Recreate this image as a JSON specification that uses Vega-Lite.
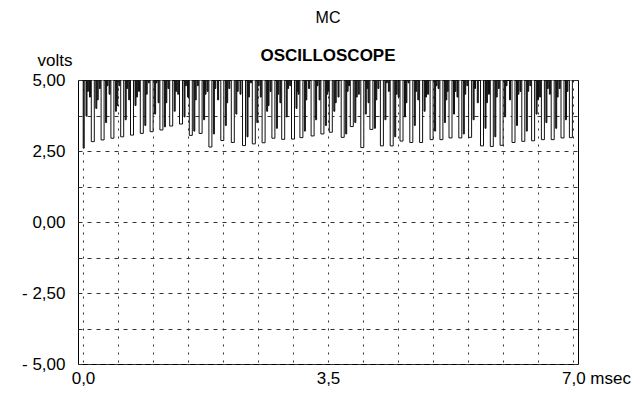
{
  "$schema": "https://vega.github.io/schema/vega-lite/v6.json",
  "width": 500,
  "height": 284,
  "autosize": {"type": "none"},
  "padding": {"left": 78, "top": 80, "right": 62, "bottom": 33},
  "background": "white",
  "config": {"font": "Liberation Sans", "view": {"stroke": "#000", "strokeWidth": 1}},
  "title": {
    "text": "MC",
    "subtitle": "OSCILLOSCOPE",
    "fontSize": 16,
    "fontWeight": "normal",
    "color": "#000",
    "subtitleFontSize": 17,
    "subtitleFontWeight": "bold",
    "subtitleColor": "#000",
    "subtitleFont": "Liberation Sans",
    "font": "Liberation Sans",
    "offset": -13,
    "subtitlePadding": 22,
    "anchor": "middle"
  },
  "datasets": {
    "long": [
      {"t": 0.14, "v": 2.83}, {"t": 0.28, "v": 2.89}, {"t": 0.42, "v": 2.95}, {"t": 0.56, "v": 3.0},
      {"t": 0.70, "v": 3.06}, {"t": 0.84, "v": 3.12}, {"t": 0.98, "v": 3.18}, {"t": 1.12, "v": 3.24},
      {"t": 1.26, "v": 3.38}, {"t": 1.40, "v": 3.45}, {"t": 1.54, "v": 3.05}, {"t": 1.68, "v": 3.12},
      {"t": 1.82, "v": 2.64}, {"t": 1.99, "v": 2.87}, {"t": 2.14, "v": 2.80}, {"t": 2.30, "v": 2.69},
      {"t": 2.44, "v": 2.75}, {"t": 2.58, "v": 2.79}, {"t": 2.72, "v": 2.95}, {"t": 2.86, "v": 2.91},
      {"t": 3.00, "v": 2.92}, {"t": 3.12, "v": 2.97}, {"t": 3.28, "v": 3.03}, {"t": 3.42, "v": 3.10},
      {"t": 3.54, "v": 3.16}, {"t": 3.71, "v": 2.98}, {"t": 3.84, "v": 3.36}, {"t": 3.99, "v": 2.62},
      {"t": 4.12, "v": 3.26}, {"t": 4.27, "v": 2.68}, {"t": 4.41, "v": 2.68}, {"t": 4.55, "v": 2.85},
      {"t": 4.69, "v": 2.80}, {"t": 4.83, "v": 2.80}, {"t": 4.98, "v": 2.90}, {"t": 5.12, "v": 2.90},
      {"t": 5.25, "v": 2.96}, {"t": 5.39, "v": 2.96}, {"t": 5.53, "v": 2.98}, {"t": 5.70, "v": 2.68},
      {"t": 5.84, "v": 2.66}, {"t": 5.98, "v": 2.70}, {"t": 6.15, "v": 2.80}, {"t": 6.29, "v": 2.84},
      {"t": 6.43, "v": 2.86}, {"t": 6.57, "v": 2.90}, {"t": 6.71, "v": 2.90}, {"t": 6.85, "v": 2.96},
      {"t": 6.97, "v": 2.97}
    ],
    "short": [
      {"t": 0.01, "v": 2.6},
      {"t": 0.05, "v": 3.73}, {"t": 0.19, "v": 4.0}, {"t": 0.33, "v": 3.5}, {"t": 0.47, "v": 3.9},
      {"t": 0.61, "v": 3.6}, {"t": 0.75, "v": 4.1}, {"t": 0.89, "v": 3.4}, {"t": 1.03, "v": 3.8},
      {"t": 1.17, "v": 3.35}, {"t": 1.31, "v": 3.9}, {"t": 1.45, "v": 3.7}, {"t": 1.59, "v": 3.2},
      {"t": 1.73, "v": 3.6}, {"t": 1.87, "v": 3.1}, {"t": 2.04, "v": 3.4}, {"t": 2.19, "v": 3.8},
      {"t": 2.35, "v": 3.0}, {"t": 2.49, "v": 3.5}, {"t": 2.63, "v": 3.9}, {"t": 2.77, "v": 3.3},
      {"t": 2.91, "v": 3.7}, {"t": 3.05, "v": 4.0}, {"t": 3.17, "v": 3.2}, {"t": 3.33, "v": 3.6},
      {"t": 3.47, "v": 3.4}, {"t": 3.59, "v": 3.9}, {"t": 3.76, "v": 3.1}, {"t": 3.89, "v": 3.5},
      {"t": 4.04, "v": 3.8}, {"t": 4.17, "v": 3.3}, {"t": 4.32, "v": 3.6}, {"t": 4.46, "v": 3.0},
      {"t": 4.60, "v": 3.7}, {"t": 4.74, "v": 3.4}, {"t": 4.88, "v": 3.9}, {"t": 5.03, "v": 3.2},
      {"t": 5.17, "v": 3.5}, {"t": 5.30, "v": 3.8}, {"t": 5.44, "v": 3.1}, {"t": 5.58, "v": 3.6},
      {"t": 5.75, "v": 3.3}, {"t": 5.89, "v": 3.0}, {"t": 6.03, "v": 3.7}, {"t": 6.20, "v": 3.4},
      {"t": 6.34, "v": 3.2}, {"t": 6.48, "v": 3.8}, {"t": 6.62, "v": 3.5}, {"t": 6.76, "v": 3.3},
      {"t": 6.90, "v": 3.6},
      {"t": 0.10, "v": 4.4}, {"t": 0.24, "v": 4.7}, {"t": 0.38, "v": 4.5}, {"t": 0.52, "v": 4.8},
      {"t": 0.66, "v": 4.3}, {"t": 0.80, "v": 4.6}, {"t": 0.94, "v": 4.9}, {"t": 1.08, "v": 4.2},
      {"t": 1.22, "v": 4.7}, {"t": 1.36, "v": 4.5}, {"t": 1.50, "v": 4.4}, {"t": 1.64, "v": 4.8},
      {"t": 1.78, "v": 4.6}, {"t": 1.93, "v": 4.3}, {"t": 2.09, "v": 4.7}, {"t": 2.25, "v": 4.5},
      {"t": 2.40, "v": 4.9}, {"t": 2.54, "v": 4.4}, {"t": 2.68, "v": 4.6}, {"t": 2.82, "v": 4.2},
      {"t": 2.96, "v": 4.8}, {"t": 3.08, "v": 4.5}, {"t": 3.23, "v": 4.7}, {"t": 3.38, "v": 4.3},
      {"t": 3.50, "v": 4.6}, {"t": 3.65, "v": 4.4}, {"t": 3.80, "v": 4.8}, {"t": 3.94, "v": 4.5},
      {"t": 4.08, "v": 4.2}, {"t": 4.22, "v": 4.7}, {"t": 4.37, "v": 4.6}, {"t": 4.51, "v": 4.4},
      {"t": 4.65, "v": 4.9}, {"t": 4.79, "v": 4.3}, {"t": 4.93, "v": 4.5}, {"t": 5.08, "v": 4.7},
      {"t": 5.21, "v": 4.6}, {"t": 5.35, "v": 4.4}, {"t": 5.49, "v": 4.8}, {"t": 5.64, "v": 4.2},
      {"t": 5.80, "v": 4.5}, {"t": 5.94, "v": 4.7}, {"t": 6.10, "v": 4.3}, {"t": 6.25, "v": 4.6},
      {"t": 6.39, "v": 4.8}, {"t": 6.53, "v": 4.4}, {"t": 6.67, "v": 4.5}, {"t": 6.81, "v": 4.7},
      {"t": 0.07, "v": 4.6}, {"t": 0.21, "v": 4.3}, {"t": 0.35, "v": 4.8}, {"t": 0.49, "v": 4.1},
      {"t": 0.63, "v": 4.7}, {"t": 0.77, "v": 4.4}, {"t": 0.91, "v": 4.5}, {"t": 1.05, "v": 4.9},
      {"t": 1.19, "v": 4.2}, {"t": 1.33, "v": 4.6}, {"t": 1.47, "v": 4.8}, {"t": 1.61, "v": 4.3},
      {"t": 1.75, "v": 4.5}, {"t": 1.89, "v": 4.7}, {"t": 2.06, "v": 4.2}, {"t": 2.21, "v": 4.6},
      {"t": 2.37, "v": 4.4}, {"t": 2.51, "v": 4.8}, {"t": 2.65, "v": 4.1}, {"t": 2.79, "v": 4.5},
      {"t": 2.93, "v": 4.7}, {"t": 3.07, "v": 4.6}, {"t": 3.19, "v": 4.3}, {"t": 3.35, "v": 4.8},
      {"t": 3.49, "v": 4.5}, {"t": 3.61, "v": 4.2}, {"t": 3.78, "v": 4.6}, {"t": 3.91, "v": 4.4},
      {"t": 4.06, "v": 4.7}, {"t": 4.19, "v": 4.3}, {"t": 4.34, "v": 4.9}, {"t": 4.48, "v": 4.5},
      {"t": 4.62, "v": 4.2}, {"t": 4.76, "v": 4.6}, {"t": 4.90, "v": 4.4}, {"t": 5.05, "v": 4.8},
      {"t": 5.19, "v": 4.3}, {"t": 5.32, "v": 4.6}, {"t": 5.46, "v": 4.5}, {"t": 5.60, "v": 4.7},
      {"t": 5.77, "v": 4.2}, {"t": 5.91, "v": 4.4}, {"t": 6.05, "v": 4.8}, {"t": 6.22, "v": 4.5},
      {"t": 6.36, "v": 4.6}, {"t": 6.50, "v": 4.3}, {"t": 6.64, "v": 4.7}, {"t": 6.78, "v": 4.4},
      {"t": 6.92, "v": 4.6}
    ]
  },
  "layer": [
    {
      "data": {"name": "long"},
      "mark": {"type": "bar", "width": 3, "fill": "#ffffff", "stroke": "#111111", "strokeWidth": 1, "clip": true},
      "encoding": {
        "x": {
          "field": "t",
          "type": "quantitative",
          "scale": {"domain": [0, 7], "nice": false, "zero": false},
          "axis": {
            "values": [0, 0.5, 1, 1.5, 2, 2.5, 3, 3.5, 4, 4.5, 5, 5.5, 6, 6.5, 7],
            "tickCount": 30,
            "grid": true,
            "gridColor": "#333333",
            "gridDash": [2, 6],
            "gridWidth": 1,
            "ticks": false,
            "domain": false,
            "title": null,
            "labelExpr": "datum.value == 0 ? '0,0' : datum.value == 3.5 ? '3,5' : datum.value == 7 ? '7,0 msec' : ''",
            "labelFontSize": 17,
            "labelColor": "#000000",
            "labelPadding": 6,
            "labelFlush": false,
            "labelOverlap": false,
            "labelOffset": {"condition": {"test": "datum.value == 7", "value": 23}, "value": 0}
          }
        },
        "y": {
          "field": "v",
          "type": "quantitative",
          "scale": {"domain": [-5, 5], "nice": false, "zero": false},
          "axis": {
            "values": [-5, -3.75, -2.5, -1.25, 0, 1.25, 2.5, 3.75, 5],
            "tickCount": 20,
            "grid": true,
            "gridColor": "#333333",
            "gridDash": [4, 5],
            "gridWidth": 1,
            "ticks": false,
            "domain": false,
            "labelExpr": "datum.value == 5 ? '5,00' : datum.value == 2.5 ? '2,50' : datum.value == 0 ? '0,00' : datum.value == -2.5 ? '- 2,50' : datum.value == -5 ? '- 5,00' : ''",
            "labelFontSize": 17,
            "labelColor": "#000000",
            "labelPadding": 13,
            "labelFlush": false,
            "labelOverlap": false,
            "title": "volts",
            "titleAngle": 0,
            "titleX": -41,
            "titleY": -20,
            "titleAlign": "left",
            "titleBaseline": "middle",
            "titleFontSize": 17,
            "titleFontWeight": "normal",
            "titleColor": "#000000"
          }
        },
        "y2": {"datum": 5}
      }
    },
    {
      "data": {"name": "short"},
      "mark": {"type": "bar", "width": 1, "fill": "#333333", "stroke": "#111111", "strokeWidth": 1, "clip": true},
      "encoding": {
        "x": {"field": "t", "type": "quantitative"},
        "y": {"field": "v", "type": "quantitative"},
        "y2": {"datum": 5}
      }
    }
  ]
}
